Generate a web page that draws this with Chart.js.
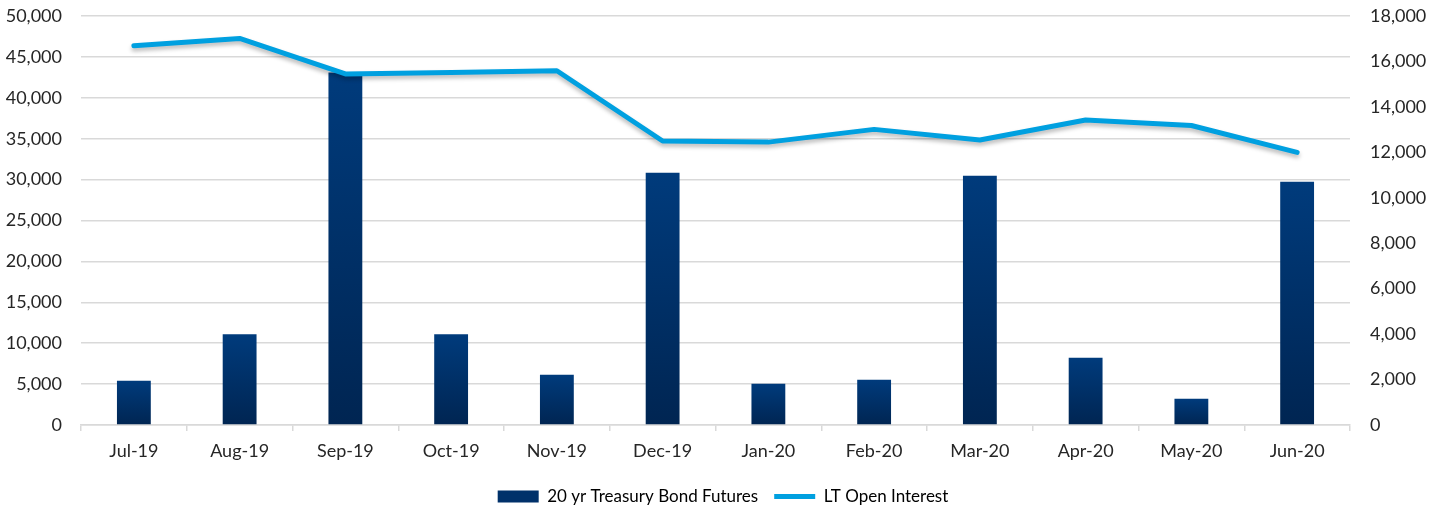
<!DOCTYPE html>
<html>
<head>
<meta charset="utf-8">
<script src="https://cdn.jsdelivr.net/npm/chart.js@4/dist/chart.umd.min.js"></script>
<style>
    html, body { margin: 0; padding: 0; background: #fff; }
    #wrap { width: 1446px; height: 509px; position: relative; }
</style>
</head>
<body>
<div id="wrap"><canvas id="oiChart"></canvas></div>
<script>
const months = ["Jul-19", "Aug-19", "Sep-19", "Oct-19", "Nov-19", "Dec-19",
    "Jan-20", "Feb-20", "Mar-20", "Apr-20", "May-20", "Jun-20"];
const bondFutures = [5420, 11100, 43100, 11100, 6150, 30850, 5050, 5540, 30480, 8230, 3220, 29740];
const openInterest = [16690, 17010, 15450, 15510, 15590, 12500, 12450, 13010, 12540, 13420, 13180, 12000];
const leftTicks = [0, 5000, 10000, 15000, 20000, 25000, 30000, 35000, 40000, 45000, 50000];
const rightTicks = [0, 2000, 4000, 6000, 8000, 10000, 12000, 14000, 16000, 18000];

Chart.defaults.font.family = "Lato, 'Noto Sans', sans-serif";
Chart.defaults.font.size = 18;
Chart.defaults.color = "#262626";

function barGradient(context) {
    const chart = context.chart;
    if (!chart.chartArea || context.type !== "data") return "#00316a";
    const y = chart.scales.y;
    const top = y.getPixelForValue(context.parsed.y);
    const bottom = y.getPixelForValue(0);
    const g = chart.ctx.createLinearGradient(0, top, 0, bottom);
    g.addColorStop(0, "#003b7c");
    g.addColorStop(1, "#002552");
    return g;
}

// soft drop shadow under the line, like the original
const lineShadow = {
    id: "lineShadow",
    beforeDatasetDraw(chart, args) {
        if (args.index !== 1) return;
        const ctx = chart.ctx;
        ctx.save();
        ctx.shadowColor = "rgba(0,0,0,0.28)";
        ctx.shadowBlur = 4;
        ctx.shadowOffsetY = 3;
    },
    afterDatasetDraw(chart, args) {
        if (args.index !== 1) return;
        chart.ctx.restore();
    }
};

// tick padding would otherwise be added above the top label
function fixSide(width) {
    return function (scale) {
        scale.width = width;
        scale.paddingTop = 0;
        scale.paddingBottom = 0;
    };
}

const ctx = document.getElementById("oiChart").getContext("2d");
const oiChart = new Chart(ctx, {
    type: "bar",
    data: {
        labels: months,
        datasets: [
            {
                label: "20 yr Treasury Bond Futures",
                data: bondFutures,
                backgroundColor: barGradient,
                categoryPercentage: 1,
                barPercentage: 0.32,
                yAxisID: "y",
                order: 1
            },
            {
                type: "line",
                label: "LT Open Interest",
                data: openInterest,
                borderColor: "#00a0e0",
                backgroundColor: "#00a0e0",
                borderWidth: 5,
                borderCapStyle: "round",
                borderJoinStyle: "round",
                pointRadius: 0,
                tension: 0,
                yAxisID: "y1",
                order: 0
            }
        ]
    },
    options: {
        responsive: true,
        maintainAspectRatio: false,
        animation: false,
        layout: { padding: { top: 16, left: 0, right: 0, bottom: -6 } },
        plugins: {
            tooltip: { enabled: false },
            legend: {
                position: "bottom",
                labels: {
                    usePointStyle: true,
                    pointStyleWidth: 41,
                    boxHeight: 12,
                    padding: 16,
                    color: "#262626",
                    font: { size: 17 },
                    generateLabels(chart) {
                        return [
                            { text: "20 yr Treasury Bond Futures", pointStyle: "rect", fillStyle: "#00316a", strokeStyle: "#00316a", lineWidth: 0, datasetIndex: 0 },
                            { text: "LT Open Interest", pointStyle: "line", fillStyle: "#00a0e0", strokeStyle: "#00a0e0", lineWidth: 5, datasetIndex: 1 }
                        ];
                    }
                }
            }
        },
        scales: {
            x: {
                grid: { offset: true, drawOnChartArea: false, drawTicks: true, tickLength: 6, color: "#d9d9d9", lineWidth: 1.5 },
                border: { display: true, color: "#d9d9d9", width: 1.5 },
                ticks: { padding: 9, maxRotation: 0 },
                afterFit(scale) { scale.height = 47; }
            },
            y: {
                position: "left",
                min: 0,
                max: 50000,
                afterBuildTicks(scale) { scale.ticks = leftTicks.map(v => ({ value: v })); },
                afterFit: fixSide(81),
                grid: { drawTicks: false, color: "#d9d9d9", lineWidth: 1.5 },
                border: { display: false },
                ticks: { padding: 19, callback: v => v.toLocaleString("en-US") }
            },
            y1: {
                position: "right",
                min: 0,
                max: 18000,
                afterBuildTicks(scale) { scale.ticks = rightTicks.map(v => ({ value: v })); },
                afterFit: fixSide(96),
                grid: { drawOnChartArea: false, drawTicks: false },
                border: { display: false },
                ticks: { padding: 20, callback: v => v.toLocaleString("en-US") }
            }
        }
    },
    plugins: [lineShadow]
});
</script>
</body>
</html>
